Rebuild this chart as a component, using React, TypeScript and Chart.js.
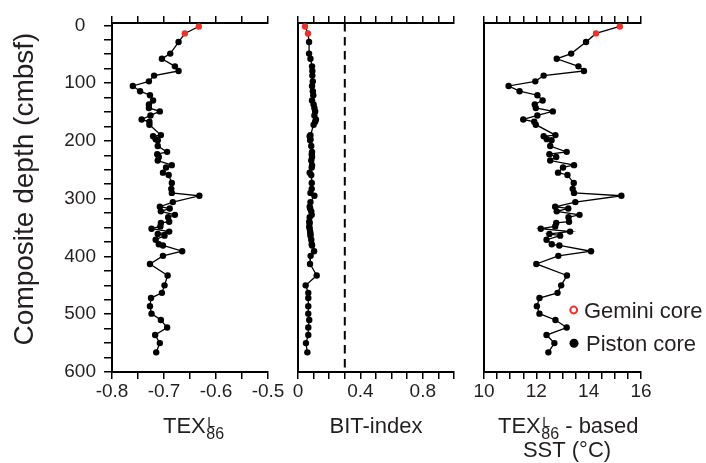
import React, { useEffect, useRef } from "react";
import { Chart, registerables } from "chart.js";
Chart.register(...registerables);

const FONT = "'Liberation Sans', Arial, Helvetica, sans-serif";
const TEXT = "#231f20";
const RED = "#e8332b";
const W = 706;
const H = 463;
const PLOT_TOP = 23;
const PLOT_BOTTOM = 372;

// Composite depth (cmbsf)
const depth = [
  2, 14, 29, 49, 58, 71, 79, 87, 97, 105, 114, 121, 130, 137, 143, 149, 156, 163, 167, 172,
  190, 192, 197, 199, 209, 219, 223, 228, 234, 242, 246, 255, 259, 273, 283, 290, 295, 306,
  314, 317, 322, 328, 332, 340, 342, 348, 352, 357, 361, 364, 371, 379, 381, 391, 399, 413,
  433, 450, 463, 472, 486, 499, 510, 523, 536, 550, 566,
];
// TEX86L
const tex86L = [
  -0.633, -0.66, -0.672, -0.688, -0.704, -0.679, -0.672, -0.719, -0.729, -0.76, -0.746, -0.727,
  -0.721, -0.729, -0.729, -0.708, -0.726, -0.743, -0.728, -0.728, -0.706, -0.721, -0.716, -0.712,
  -0.712, -0.694, -0.713, -0.71, -0.712, -0.685, -0.696, -0.702, -0.691, -0.685, -0.686, -0.685,
  -0.632, -0.683, -0.708, -0.689, -0.706, -0.679, -0.692, -0.69, -0.706, -0.707, -0.724, -0.69,
  -0.712, -0.699, -0.716, -0.71, -0.702, -0.665, -0.702, -0.727, -0.693, -0.699, -0.704, -0.725,
  -0.727, -0.724, -0.706, -0.694, -0.717, -0.708, -0.715,
];
// BIT-index
const bitIndex = [
  0.045, 0.064, 0.071, 0.071, 0.08, 0.09, 0.092, 0.092, 0.095, 0.09, 0.095, 0.098, 0.09, 0.1,
  0.105, 0.11, 0.105, 0.115, 0.11, 0.1, 0.08, 0.075, 0.08, 0.078, 0.085, 0.09, 0.088, 0.09,
  0.085, 0.09, 0.088, 0.075, 0.085, 0.088, 0.088, 0.08, 0.105, 0.08, 0.075, 0.078, 0.085,
  0.088, 0.075, 0.072, 0.075, 0.072, 0.075, 0.078, 0.08, 0.08, 0.085, 0.088, 0.09, 0.103,
  0.081, 0.077, 0.12, 0.049, 0.066, 0.066, 0.066, 0.066, 0.072, 0.066, 0.066, 0.051, 0.06,
];
// TEX86L-based SST (°C)
const sstC = [
  15.19, 14.28, 13.9, 13.33, 12.78, 13.61, 13.82, 12.28, 11.96, 10.94, 11.36, 12.04, 12.24,
  11.94, 11.98, 12.63, 12.04, 11.5, 11.92, 11.98, 12.73, 12.28, 12.4, 12.58, 12.53, 13.16,
  12.5, 12.76, 12.53, 13.44, 13.02, 12.83, 13.19, 13.43, 13.39, 13.44, 15.25, 13.49, 12.72,
  13.22, 12.78, 13.65, 13.23, 13.25, 12.76, 12.72, 12.17, 13.29, 12.5, 12.91, 12.39, 12.59,
  12.88, 14.09, 12.84, 12.0, 13.17, 12.95, 12.81, 12.12, 12.02, 12.12, 12.73, 13.16, 12.39,
  12.69, 12.46,
];
// first samples come from the Gemini core, the rest from the piston core
const geminiCount = 2;
const bitThreshold = 0.3;
const depthMin = -4;
const depthMax = 600;
const legendLabels = ["Gemini core", "Piston core"];

function near(v: number, step: number) {
  return Math.abs(v / step - Math.round(v / step)) < 1e-6;
}

function drawTex(ctx: CanvasRenderingContext2D, x: number, base: number) {
  ctx.textAlign = "left";
  ctx.textBaseline = "alphabetic";
  ctx.font = `22px ${FONT}`;
  ctx.fillText("TEX", x, base);
  const w = ctx.measureText("TEX").width;
  ctx.font = `14px ${FONT}`;
  ctx.fillText("L", x + w + 1.5, base - 6);
  ctx.font = `16px ${FONT}`;
  ctx.fillText("86", x + w + 0.5, base + 6.5);
  const w86 = ctx.measureText("86").width;
  return x + w + 0.5 + w86;
}

type Panel = {
  values: number[];
  xMin: number;
  xMax: number;
  xStep: number;
  isLabel: (v: number) => boolean;
  fmt: (v: number) => string;
  left: number;
  right: number;
  yTicks: boolean;
  extra?: any[];
  draw: (ctx: CanvasRenderingContext2D) => void;
};

function buildConfig(p: Panel): any {
  const pts = depth.map((d, i) => ({ x: p.values[i], y: d }));
  const colors = depth.map((_, i) => (i < geminiCount ? RED : "#000"));
  const tickFont = { family: FONT, size: 19 };
  const xAxis = (pos: "top" | "bottom") => ({
    type: "linear",
    position: pos,
    min: p.xMin,
    max: p.xMax,
    ticks: {
      display: pos === "bottom",
      stepSize: p.xStep,
      autoSkip: false,
      includeBounds: false,
      maxRotation: 0,
      minRotation: 0,
      callback: (v: number) => (p.isLabel(v) ? p.fmt(v) : ""),
      font: tickFont,
      color: TEXT,
      padding: 1,
    },
    grid: {
      display: true,
      drawOnChartArea: false,
      drawTicks: true,
      tickLength: 7,
      color: "#000",
      lineWidth: 1.5,
    },
    border: { display: true, color: "#000", width: 2 },
    afterFit: (s: any) => {
      s.height = pos === "bottom" ? H - PLOT_BOTTOM : PLOT_TOP;
    },
  });
  return {
    type: "scatter",
    data: {
      datasets: [
        {
          data: pts,
          showLine: true,
          borderColor: "#000",
          borderWidth: 1.3,
          pointRadius: 3.2,
          pointBorderWidth: 0,
          pointBackgroundColor: colors,
          pointBorderColor: colors,
          xAxisID: "x",
          yAxisID: "y",
        },
        ...(p.extra || []),
      ],
    },
    options: {
      responsive: false,
      animation: false,
      layout: {
        padding: { left: p.yTicks ? 0 : p.left, right: W - p.right, top: 0, bottom: 0 },
      },
      plugins: { legend: { display: false }, tooltip: { enabled: false } },
      scales: {
        x: xAxis("bottom"),
        xTop: xAxis("top"),
        y: {
          type: "linear",
          reverse: true,
          min: depthMin,
          max: depthMax,
          ticks: {
            display: p.yTicks,
            stepSize: 25,
            autoSkip: false,
            includeBounds: false,
            callback: (v: number) => (near(v, 100) ? String(Math.round(v)) : ""),
            font: tickFont,
            color: TEXT,
            padding: 8,
            crossAlign: "center",
          },
          grid: {
            display: p.yTicks,
            drawOnChartArea: false,
            drawTicks: p.yTicks,
            tickLength: 8,
            color: "#000",
            lineWidth: 1.5,
          },
          border: { display: true, color: "#000", width: 2 },
          afterFit: (s: any) => {
            s.width = p.yTicks ? p.left : 0;
          },
        },
      },
    },
    plugins: [
      {
        id: "panelText",
        afterDraw(chart: any) {
          const ctx = chart.ctx as CanvasRenderingContext2D;
          ctx.save();
          ctx.fillStyle = TEXT;
          p.draw(ctx);
          ctx.restore();
        },
      },
    ],
  };
}

const panels: Panel[] = [
  {
    values: tex86L,
    xMin: -0.8,
    xMax: -0.5,
    xStep: 0.05,
    isLabel: (v) => near(v, 0.1),
    fmt: (v) => v.toFixed(1),
    left: 112,
    right: 268,
    yTicks: true,
    draw: (ctx) => {
      ctx.save();
      ctx.translate(33, 189);
      ctx.rotate(-Math.PI / 2);
      ctx.font = `28px ${FONT}`;
      ctx.textAlign = "center";
      ctx.textBaseline = "alphabetic";
      ctx.fillText("Composite depth (cmbsf)", 0, 0);
      ctx.restore();
      drawTex(ctx, 163, 432.5);
    },
  },
  {
    values: bitIndex,
    xMin: 0,
    xMax: 1,
    xStep: 0.1,
    isLabel: (v) => near(v, 0.4),
    fmt: (v) => (Math.abs(v) < 1e-9 ? "0" : v.toFixed(1)),
    left: 298,
    right: 454,
    yTicks: false,
    extra: [
      {
        data: [
          { x: bitThreshold, y: depthMin },
          { x: bitThreshold, y: depthMax },
        ],
        showLine: true,
        borderColor: "#000",
        borderWidth: 2,
        borderDash: [8.5, 5.5],
        pointRadius: 0,
        xAxisID: "x",
        yAxisID: "y",
      },
    ],
    draw: (ctx) => {
      ctx.font = `22px ${FONT}`;
      ctx.textAlign = "center";
      ctx.textBaseline = "alphabetic";
      ctx.fillText("BIT-index", 376, 432.5);
    },
  },
  {
    values: sstC,
    xMin: 10,
    xMax: 16,
    xStep: 0.5,
    isLabel: (v) => near(v, 2),
    fmt: (v) => String(Math.round(v)),
    left: 484,
    right: 641,
    yTicks: false,
    draw: (ctx) => {
      const end = drawTex(ctx, 498, 432.5);
      ctx.font = `22px ${FONT}`;
      ctx.textAlign = "left";
      ctx.fillText(" - based", end, 432.5);
      ctx.textAlign = "center";
      ctx.fillText("SST (°C)", 567, 457);
      // legend
      ctx.beginPath();
      ctx.arc(573.7, 310, 3.4, 0, Math.PI * 2);
      ctx.strokeStyle = RED;
      ctx.lineWidth = 2;
      ctx.stroke();
      ctx.beginPath();
      ctx.arc(574, 343.3, 4.5, 0, Math.PI * 2);
      ctx.fillStyle = "#000";
      ctx.fill();
      ctx.fillStyle = TEXT;
      ctx.textAlign = "left";
      ctx.font = `22px ${FONT}`;
      ctx.fillText(legendLabels[0], 584, 318);
      ctx.fillText(legendLabels[1], 586, 351);
    },
  },
];

export default function App() {
  const r1 = useRef<HTMLCanvasElement>(null);
  const r2 = useRef<HTMLCanvasElement>(null);
  const r3 = useRef<HTMLCanvasElement>(null);
  useEffect(() => {
    const refs = [r1, r2, r3];
    const charts = panels.map((p, i) => new Chart(refs[i].current as HTMLCanvasElement, buildConfig(p)));
    return () => charts.forEach((c) => c.destroy());
  }, []);
  const cs: React.CSSProperties = { position: "absolute", left: 0, top: 0, width: W, height: H };
  return (
    <div style={{ position: "fixed", left: 0, top: 0, width: W, height: H, background: "#fff" }}>
      <canvas ref={r1} width={W} height={H} style={cs} />
      <canvas ref={r2} width={W} height={H} style={cs} />
      <canvas ref={r3} width={W} height={H} style={cs} />
    </div>
  );
}
